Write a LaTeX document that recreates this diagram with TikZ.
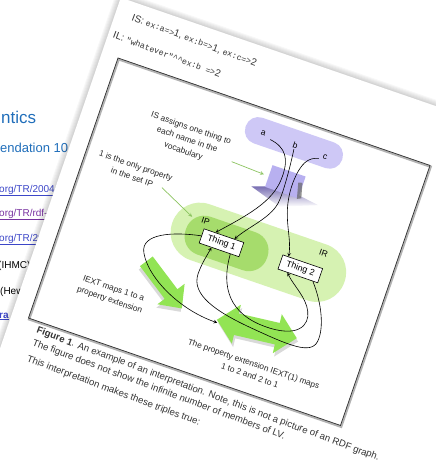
\documentclass[tikz,border=0pt]{standalone}
\usepackage{fontspec}
\setmainfont{Liberation Sans}
\setsansfont{Liberation Sans}
\setmonofont{Liberation Mono}
\usetikzlibrary{positioning}
\definecolor{lavender}{RGB}{206,200,246}
\definecolor{hatpurple}{RGB}{184,176,240}
\definecolor{hatshade}{RGB}{120,110,178}
\definecolor{irgreen}{RGB}{214,242,178}
\definecolor{ipgreen}{RGB}{166,220,108}
\definecolor{biggreen}{RGB}{146,228,84}
\definecolor{hintgreen}{RGB}{140,196,96}
\definecolor{webblue}{RGB}{32,110,186}
\definecolor{linkblue}{RGB}{60,70,200}
\definecolor{linkpurple}{RGB}{120,50,160}
\newcommand{\exq}[1]{{\fontsize{8.3}{10}\selectfont\ttfamily #1}}
\tikzstyle{thing}=[draw, fill=white, line width=.6pt, font=\fontsize{8.8}{10}\selectfont,
  minimum width=42pt, minimum height=15pt, inner sep=1pt]
\tikzstyle{note}=[align=center, inner sep=0pt, text=black!85,
  font=\fontsize{8.3}{12}\selectfont]
\tikzstyle{letter}=[inner sep=1pt, font=\fontsize{8.5}{10}\selectfont]
\tikzstyle{hint}=[->, hintgreen, line width=.7pt]
\tikzstyle{pairline}=[->, line width=.6pt]
\tikzstyle{fat}=[fill=biggreen]
\tikzstyle{fatshadow}=[fill=black, opacity=.15]
\tikzstyle{weblink}=[anchor=base west, inner sep=0pt, font=\fontsize{10}{12}\selectfont]
\tikzstyle{capline}=[anchor=west, inner sep=0pt, rotate=-1.5, text=black!80,
  font=\fontsize{9.6}{11}\selectfont]

\begin{document}
\begin{tikzpicture}[x=1pt, y=-1pt, >=stealth]
  \useasboundingbox (0,0) rectangle (436,461);
  \clip (0,0) rectangle (436,461);

  % web page behind the sheet
  \node[weblink, text=webblue, font=\fontsize{17}{20}\selectfont] (title) at (1,123) {ntics};
  \node[weblink, text=webblue, font=\fontsize{13}{15}\selectfont] (status) at (0,152) {endation 10};
  \node[weblink, text=linkblue] (link1) at (-1,192) {\underline{org/TR/2004/}};
  \node[weblink, text=linkpurple] (link2) at (-1,216) {\underline{org/TR/rdf-mt/}};
  \node[weblink, text=linkblue] (link3) at (-1,241) {\underline{org/TR/2004/}};
  \node[weblink] (ihmc) at (-2,268) {(IHMC)};
  \node[weblink] (hp) at (0,294) {(Hewlett};
  \node[weblink, text=linkblue, font=\bfseries\fontsize{10}{12}\selectfont] (ra) at (-1,318) {\underline{ra}};

  \begin{scope}[shift={(118,58)}, rotate=-19, transform shape]
    % the sheet
    \foreach \s in {1,...,6}
      \fill[black, opacity=.03] (-17-\s,-58-\s) rectangle (620,620);
    \fill[white] (-17,-58) rectangle (620,620);

    \node[capline, font=\fontsize{10}{12}\selectfont] (isline) at (0,-43)
      {IS: \exq{ex:a=>}1, \exq{ex:b=>}1, \exq{ex:c=>}2};
    \node[capline, font=\fontsize{10}{12}\selectfont] (illine) at (-12,-21)
      {IL: \exq{"whatever"\textasciicircum\textasciicircum ex:b =>}2};

    % frame
    \draw[black!30, line width=2.4pt] (1,1) rectangle (331,276);
    \draw[black!80, line width=.7pt] (0,0) rectangle (330,275);

    % sets
    \fill[irgreen, rounded corners=29pt] (105,108.5) rectangle (287,167.5);
    \fill[ipgreen, rounded corners=19pt] (120,120) rectangle (206,160);
    \fill[lavender, rounded corners=13pt] (143,9.5) rectangle (245,36.5);
    \shade[top color=hatshade, bottom color=white]
      (168,78) -- (182,73) -- (216,71) -- (237,74) -- (201,88) -- cycle;
    \node[fill=hatpurple, minimum width=35pt, minimum height=23pt, inner sep=0pt] (hat) at (198.5,62.5) {};
    \fill[black!60, opacity=.7] (211,59) -- (215,58) -- (219,73) -- (215,75) -- cycle;

    % big arrows
    \begin{scope}[shift={(93,183)}, rotate=-34]
      \fill[fatshadow] (2,-5) -- (43,-5) -- (43,-14) -- (61,3) -- (43,20) -- (43,11) -- (2,11) -- cycle;
      \fill[fat] (0,-8) -- (41,-8) -- (41,-17) -- (59,0) -- (41,17) -- (41,8) -- (0,8) -- cycle;
    \end{scope}
    \begin{scope}[shift={(219.5,211)}, rotate=6]
      \fill[fatshadow] (-39,3) -- (-19,-17) -- (-19,-8) -- (23,-8) -- (23,-17) -- (43,3)
        -- (23,23) -- (23,14) -- (-19,14) -- (-19,23) -- cycle;
      \fill[fat] (-41,0) -- (-21,-20) -- (-21,-11) -- (21,-11) -- (21,-20) -- (41,0)
        -- (21,20) -- (21,11) -- (-21,11) -- (-21,20) -- cycle;
    \end{scope}
    \coordinate (ext) at (180,218);

    % names and things
    \node[letter] (a) at (162,24) {a};
    \node[letter] (b) at (196,24.5) {b};
    \node[letter] (c) at (228,26) {c};
    \node[letter] (ip) at (136,126) {IP};
    \node[letter] (ir) at (258,118) {IR};
    \node[thing] (t1) at (158,141) {Thing 1};
    \node[thing] (t2) at (241,140) {Thing 2};

    \draw[pairline] ([xshift=5pt]a.south east) .. controls (188,30) and (194,40) .. (194,58)
      .. controls (194,82) and (180,100) .. ([xshift=-9pt]t1.north);
    \draw[pairline] (b.south) .. controls (198,45) and (200,70) .. (199,82)
      .. controls (198,100) and (180,115) .. ([xshift=11pt]t1.north);
    \draw[pairline] ([xshift=-2pt]c.south west) .. controls (212,32) and (207,40) .. (206,60)
      .. controls (205,95) and (222,110) .. ([xshift=-15pt]t2.north);

    \draw[pairline] (t1.west) .. controls (110,146) and (78,158) .. (88,176)
      .. controls (100,198) and (140,218) .. (ext);
    \draw[pairline] ([xshift=12pt]t1.south) .. controls (172,185) and (190,205) .. (225,206)
      .. controls (262,207) and (268,190) .. (262,178)
      .. controls (256,165) and (240,158) .. ([xshift=-11pt]t2.south);
    \draw[pairline] ([xshift=16pt]t2.south) .. controls (272,165) and (283,188) .. (281,203)
      .. controls (279,218) and (255,216) .. (215,212)
      .. controls (175,208) and (146,200) .. (146,178)
      .. controls (146,168) and (148,160) .. ([xshift=-8pt]t1.south);

    % notes
    \node[note] (isnote) at (92,55) {IS assigns one thing to\\each name in the\\vocabulary};
    \node[note] (ipnote) at (52,102) {1 is the only property\\in the set IP};
    \node[note] (iextnote) at (71,226) {IEXT maps 1 to a\\property extension};
    \node[note] (pextnote) at (228,251) {The property extension IEXT(1) maps\\1 to 2 and 2 to 1};
    \draw[hint] ([shift={(7pt,-6pt)}]isnote.east) -- ([xshift=-5pt]hat.west);
    \draw[hint] ([shift={(-7pt,3pt)}]ipnote.south east) -- ([xshift=-9pt]ip.west);

    % caption
    \node[capline] (cap1) at (12,284)
      {\textbf{Figure 1}. An example of an interpretation. Note, this is not a picture of an RDF graph.};
    \node[capline] (cap2) at (12,297)
      {The figure does not show the infinite number of members of LV.};
    \node[capline] (cap3) at (12,314)
      {This interpretation makes these triples true:};
  \end{scope}
\end{tikzpicture}
\end{document}
